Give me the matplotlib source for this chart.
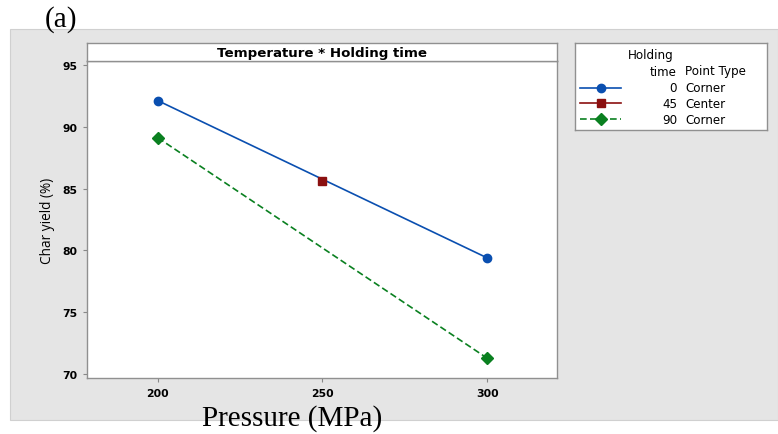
import matplotlib
matplotlib.use("Agg")
import matplotlib.pyplot as plt
from matplotlib.patches import Rectangle
from matplotlib.lines import Line2D

# Interaction plot data: char yield (%) vs pressure (MPa) for each holding time
pressure = [200, 250, 300]
hold_0 = [92.1, None, 79.4]
hold_45 = [None, 85.6, None]
hold_90 = [89.1, None, 71.3]
yticks = [70, 75, 80, 85, 90, 95]
xticks = [200, 250, 300]
legend_times = ["0", "45", "90"]
legend_types = ["Corner", "Center", "Corner"]

W, H = 778, 435
fig = plt.figure(figsize=(W / 100, H / 100), dpi=100)
fig.patch.set_facecolor("white")

def fx(px):
    return px / W

def fy(py):
    return 1 - py / H

# gray panel behind the chart
fig.patches.append(Rectangle((fx(10), fy(421)), fx(778) - fx(10), fy(30) - fy(421),
                             transform=fig.transFigure, facecolor="#e5e5e5",
                             edgecolor="#d0d0d0", lw=0.8, zorder=-5))

ax = fig.add_axes([fx(87), fy(379), fx(557) - fx(87), fy(62) - fy(379)])
ax.set_facecolor("white")

def pts(vals):
    xs = [p for p, v in zip(pressure, vals) if v is not None]
    ys = [v for v in vals if v is not None]
    return xs, ys

x0, y0 = pts(hold_0)
x45, y45 = pts(hold_45)
x90, y90 = pts(hold_90)
ax.plot(x0, y0, color="#0a4fb0", lw=1.2, marker="o", ms=6, zorder=3)
ax.plot(x45, y45, color="#8b1010", lw=1.2, marker="s", ms=6, zorder=4)
ax.plot(x90, y90, color="#0a8020", lw=1.2, ls=(0, (4, 2)), marker="D", ms=6, zorder=3)

ax.set_xlim(178.5, 321.2)
ax.set_ylim(69.7, 95.3)
ax.set_xticks(xticks)
ax.set_yticks(yticks)
tick_font = dict(family="DejaVu Sans", weight="bold", size=7.8)
ax.set_xticklabels([str(t) for t in xticks], **tick_font)
ax.set_yticklabels([str(t) for t in yticks], **tick_font)
ax.tick_params(length=3, width=0.8, color="#888888")
ax.tick_params(axis="x", pad=4)
ax.tick_params(axis="y", pad=4)
for s in ax.spines.values():
    s.set_color("#909090")
    s.set_linewidth(1.0)

ax.set_ylabel("Char yield (%)", family="Open Sans", size=9.8, labelpad=5)

# title strip above the axes
strip = fig.add_axes([fx(87), fy(62), fx(557) - fx(87), fy(44) - fy(62)])
strip.set_xticks([])
strip.set_yticks([])
strip.set_facecolor("white")
for s in strip.spines.values():
    s.set_color("#909090")
    s.set_linewidth(1.0)
strip.text(0.5, 0.5, "Temperature * Holding time", ha="center", va="center",
           family="DejaVu Sans", weight="bold", size=9.6, transform=strip.transAxes)

# legend panel
leg = fig.add_axes([fx(575), fy(131), fx(767) - fx(575), fy(44) - fy(131)])
leg.set_xlim(575, 767)
leg.set_ylim(131, 44)
leg.set_xticks([])
leg.set_yticks([])
leg.set_facecolor("white")
for s in leg.spines.values():
    s.set_color("#909090")
    s.set_linewidth(1.0)
lf = dict(family="DejaVu Sans", size=8.6, va="center")
leg.text(628, 56, "Holding", **lf)
leg.text(677, 72, "time", ha="right", **lf)
leg.text(685, 72, "Point Type", **lf)
styles = [dict(color="#0a4fb0", marker="o", ls="-"),
          dict(color="#8b1010", marker="s", ls="-"),
          dict(color="#0a8020", marker="D", ls=(0, (4, 2)))]
rows = [89, 104, 120]
for yy, st, t, tp in zip(rows, styles, legend_times, legend_types):
    leg.add_line(Line2D([580, 621], [yy, yy], color=st["color"], ls=st["ls"], lw=1.2))
    leg.plot([601], [yy], marker=st["marker"], color=st["color"], ms=6)
    leg.text(677, yy, t, ha="right", **lf)
    leg.text(685, yy, tp, **lf)

fig.text(fx(45), fy(27), "(a)", family="Liberation Serif", size=21, va="baseline")
fig.text(fx(292), fy(426), "Pressure (MPa)", family="Liberation Serif", size=21,
         ha="center", va="baseline")

fig.savefig("out.png", dpi=100)
